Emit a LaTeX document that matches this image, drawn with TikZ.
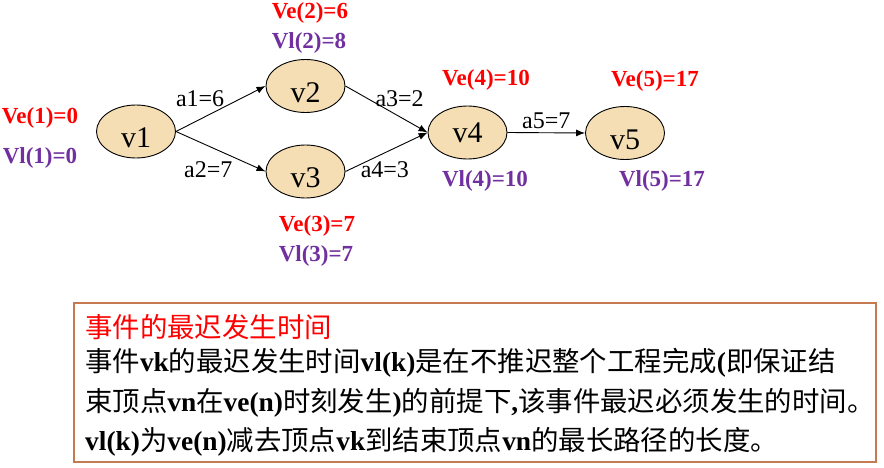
\documentclass[tikz,border=0pt]{standalone}
\usepackage{fontspec}
\setmainfont{Liberation Serif}
\newfontfamily\cjk{Noto Sans CJK SC}
\usetikzlibrary{shapes.geometric,arrows.meta}
\definecolor{rossoVe}{RGB}{255,0,0}
\definecolor{violaVl}{RGB}{112,48,160}
\definecolor{fondoEvento}{RGB}{245,222,179}
\definecolor{bordoBox}{RGB}{198,122,82}
\newcommand{\tb}[1]{{\rmfamily\bfseries #1}}
\tikzset{
    evento/.style={ellipse, draw, line width=0.9pt, fill=fondoEvento, minimum width=79pt, minimum height=53pt, inner sep=0pt, font=\rmfamily\fontsize{30}{30}\selectfont},
    attivita/.style={-{Latex[length=9pt,width=7pt]}, line width=0.9pt},
    peso/.style={inner sep=0pt, font=\rmfamily\fontsize{24}{24}\selectfont},
    tempo/.style={inner sep=0pt, font=\rmfamily\bfseries\fontsize{23}{23}\selectfont},
    riga/.style={anchor=west, inner sep=0pt, font=\cjk\fontsize{27.4}{27.4}\selectfont}
}
\begin{document}
\begin{tikzpicture}[x=1pt, y=-1pt]
    \useasboundingbox (0,0) rectangle (884,468);

    % Gli eventi del grafo (il testo sta un po' in basso)
    \foreach \n/\x/\y/\h in {v1/136/131.5/33, v2/305.5/86/33, v3/305.5/171.5/33, v4/467.5/132.5/20, v5/625/133/33} {
        \node[evento, text height=\h pt] (\n) at (\x,\y) {\n};
    }

    % Le attivita' con il loro peso
    \draw[attivita] (v1.east) -- (v2.west) node[peso, pos=0.27, above=12pt] (a1) {a1=6};
    \draw[attivita] (v1.east) -- (v3.west) node[peso, pos=0.36, below=15pt] (a2) {a2=7};
    \draw[attivita] (v2.east) -- (v4.west) node[peso, pos=0.66, above=10pt] (a3) {a3=2};
    \draw[attivita] (v3.east) -- (v4.west) node[peso, pos=0.48, below=8pt] (a4) {a4=3};
    \draw[attivita] (v4.east) -- (v5.west) node[peso, midway, above=4pt] (a5) {a5=7};

    % Tempi ve (rosso) e vl (viola)
    \foreach \i/\x/\y/\t in {1/40/118/0, 2/310/13/6, 3/317/226/7, 4/486/80/10, 5/655/81/17} {
        \node[tempo, text=rossoVe] (ve\i) at (\x,\y) {Ve(\i)=\t};
    }
    \foreach \i/\x/\y/\t in {1/40/158/0, 2/309/43/8, 3/316/256/7, 4/485/181/10, 5/662/181/17} {
        \node[tempo, text=violaVl] (vl\i) at (\x,\y) {Vl(\i)=\t};
    }

    % Riquadro con la definizione
    \draw[bordoBox, line width=2.5pt] (74,303) rectangle (876,462);
    \node[riga, text=rossoVe] (titolo) at (85,327) {事件的最迟发生时间};
    \node[riga] (riga1) at (85,363) {事件\tb{vk}的最迟发生时间\tb{vl(k)}是在不推迟整个工程完成\tb{(}即保证结};
    \node[riga] (riga2) at (85,403) {束顶点\tb{vn}在\tb{ve(n)}时刻发生\tb{)}的前提下\tb{,}该事件最迟必须发生的时间。};
    \node[riga] (riga3) at (85,442) {\tb{vl(k)}为\tb{ve(n)}减去顶点\tb{vk}到结束顶点\tb{vn}的最长路径的长度。};
\end{tikzpicture}
\end{document}
